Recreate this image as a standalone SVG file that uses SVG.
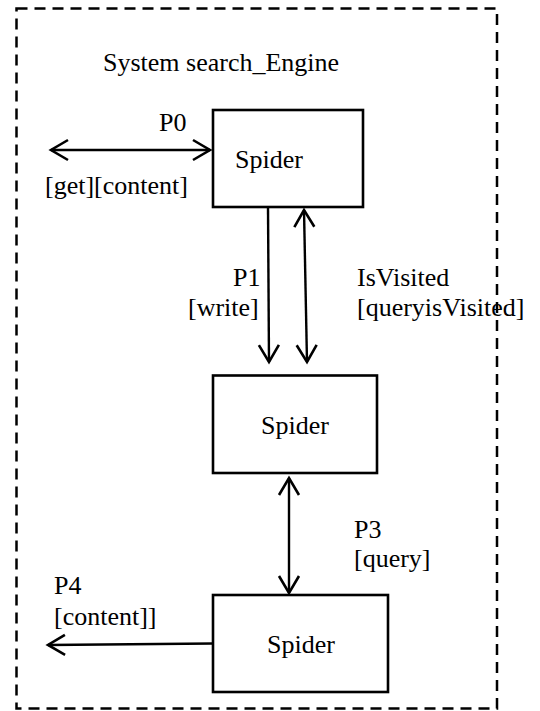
<svg xmlns="http://www.w3.org/2000/svg" width="540" height="711" viewBox="0 0 540 711">
<style>
text{font-family:"Liberation Serif","Times New Roman",serif;font-size:26px;fill:#000}
.box{fill:#fff;stroke:#000;stroke-width:2.6}
.con{fill:none;stroke:#000;stroke-width:2.4}
</style>
<defs>
<marker id="arr" markerUnits="userSpaceOnUse" markerWidth="40" markerHeight="40" refX="0" refY="0" viewBox="-20 -20 40 40" orient="auto-start-reverse" overflow="visible">
<path d="M-17,-10 L0,0 L-17,10" fill="none" stroke="#000" stroke-width="2.6"/>
</marker>
</defs>
<rect id="system" x="16.5" y="8.5" width="480.5" height="700" fill="none" stroke="#000" stroke-width="2.5" stroke-dasharray="11 7"/>
<text id="title" x="103" y="71">System search_Engine</text>
<g id="spider1"><rect class="box" x="213" y="110" width="150" height="97"/><text x="235" y="168">Spider</text></g>
<g id="spider2"><rect class="box" x="213" y="375.5" width="164" height="97.5"/><text x="261" y="434">Spider</text></g>
<g id="spider3"><rect class="box" x="213" y="595" width="175" height="97"/><text x="267" y="653">Spider</text></g>
<g id="connectors">
<line class="con" x1="51" y1="150" x2="210" y2="150" marker-start="url(#arr)" marker-end="url(#arr)"/>
<line class="con" x1="268" y1="207" x2="269" y2="362" marker-end="url(#arr)"/>
<line class="con" x1="304" y1="210" x2="307" y2="362" marker-start="url(#arr)" marker-end="url(#arr)"/>
<line class="con" x1="289" y1="478" x2="289" y2="593" marker-start="url(#arr)" marker-end="url(#arr)"/>
<line class="con" x1="213" y1="643.5" x2="48" y2="645" marker-end="url(#arr)"/>
</g>
<g id="labels">
<text x="159" y="131">P0</text>
<text x="45" y="194">[get][content]</text>
<text x="233" y="286">P1</text>
<text x="188" y="316">[write]</text>
<text x="357" y="286">IsVisited</text>
<text x="357" y="316">[queryisVisited]</text>
<text x="354" y="538">P3</text>
<text x="354" y="567">[query]</text>
<text x="54" y="594">P4</text>
<text x="54" y="625">[content]]</text>
</g>
</svg>
